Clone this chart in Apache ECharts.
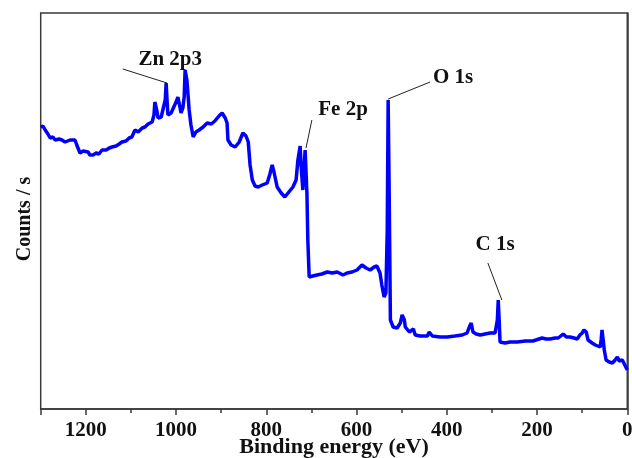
<!DOCTYPE html>
<html>
<head>
<meta charset="utf-8">
<title>XPS survey</title>
<script src="https://cdn.jsdelivr.net/npm/echarts@6/dist/echarts.min.js"></script>
<style>
  html, body { margin: 0; padding: 0; background: #fff; }
  #chart { width: 632px; height: 458px; }
</style>
</head>
<body>
<div id="chart"></div>
<script>
// binding energy (eV)
var energy = [1300, 1295, 1290, 1284, 1279, 1273, 1268, 1259, 1253, 1246, 1242, 1235, 1231, 1224, 1220, 1213,
  1206, 1202, 1195, 1191, 1184, 1177, 1171, 1164, 1155, 1148, 1142, 1133, 1126, 1120, 1111, 1104, 1098, 1091,
  1084, 1075, 1069, 1062, 1053, 1049, 1047, 1042, 1040, 1033, 1029, 1024, 1022, 1020, 1018, 1011, 1007, 1000,
  996, 991, 989, 985, 982, 980, 978, 976, 971, 967, 962, 956, 949, 940, 931, 922, 914, 905, 898, 891, 887, 885,
  878, 869, 860, 852, 845, 840, 836, 831, 825, 818, 809, 798, 792, 787, 783, 776, 767, 759, 750, 741, 734, 730,
  725, 723, 719, 714, 712, 710, 708, 705, 697, 688, 677, 665, 654, 643, 630, 621, 610, 599, 588, 579, 570, 561,
  555, 548, 544, 539, 535, 532, 530, 528, 525, 519, 510, 503, 499, 494, 492, 483, 474, 470, 459, 443, 439, 432,
  415, 399, 382, 366, 355, 351, 346, 342, 335, 326, 315, 304, 293, 288, 286, 284, 282, 271, 260, 244, 226, 209,
  189, 180, 171, 160, 153, 142, 135, 127, 118, 111, 105, 100, 96, 91, 87, 78, 71, 60, 58, 56, 51, 47, 40, 33,
  27, 22, 18, 16, 11, 7, 0];
// counts / s (arbitrary scale)
var counts = [28200, 28300, 27900, 27500, 27100, 27200, 26900, 27000, 26900, 26700, 26600, 26900, 27000, 26900,
  26400, 25600, 25800, 25900, 25700, 25400, 25400, 25600, 25500, 25900, 25900, 26100, 26200, 26300, 26500, 26700,
  26800, 27100, 27200, 27900, 27700, 28100, 28200, 28500, 28700, 29400, 30700, 29700, 29100, 29200, 29400, 30900,
  32600, 30900, 29400, 29600, 29700, 30700, 31200, 30100, 29600, 30100, 31200, 33900, 34100, 32900, 29900, 28400,
  27200, 27700, 27900, 28200, 28600, 28500, 28800, 29300, 29600, 29100, 28600, 26900, 26400, 26200, 26700, 27600,
  27300, 26700, 24400, 22900, 22300, 22200, 22400, 22600, 23500, 24400, 23700, 22200, 21600, 21200, 21700, 22200,
  22900, 24900, 26300, 24400, 21900, 25900, 26100, 21600, 16900, 13200, 13300, 13400, 13500, 13700, 13600, 13700,
  13400, 13600, 13700, 13900, 14400, 14100, 13900, 14200, 14300, 13600, 12400, 11200, 11600, 17900, 30900, 22900,
  8900, 8200, 8100, 8600, 9400, 8900, 8200, 7700, 8000, 7400, 7300, 7300, 7700, 7300, 7200, 7200, 7300, 7400,
  7600, 8100, 8600, 7700, 7500, 7400, 7500, 7600, 7600, 8900, 10900, 8900, 6700, 6600, 6700, 6700, 6800, 6800,
  7100, 7000, 7000, 7100, 7100, 7500, 7200, 7200, 7100, 7000, 7400, 7600, 7900, 7700, 6900, 6600, 6400, 6200,
  6900, 7900, 5900, 4900, 4700, 4600, 4900, 5200, 4800, 4600, 4900, 4700, 3900];

var xTicks = [0, 200, 400, 600, 800, 1000, 1200];

// peak labels and their leader lines [from, to] in (eV, counts)
var peakNames = ['Zn 2p3', 'Fe 2p', 'O 1s', 'C 1s'];
var peakLabelAt = [[1013, 34900], [630, 29900], [386, 33100], [293, 16400]];
var peakLines = [
  [[1118, 34000], [1020, 32600]],
  [[699, 28900], [712, 26100]],
  [[530, 31000], [437, 32700]],
  [[309, 14600], [278, 10900]]
];

var chart = echarts.init(document.getElementById('chart'));
var font = 'Liberation Serif, Times New Roman, serif';

chart.setOption({
  animation: false,
  grid: {
    left: 40.7, right: 4.7, top: 13, bottom: 49,
    outerBoundsMode: 'none',
    containLabel: false,
    show: true, borderColor: '#3a3a3a', borderWidth: 1.5
  },
  xAxis: {
    type: 'value',
    inverse: true,
    min: 0, max: 1300, interval: 200,
    name: 'Binding energy (eV)',
    nameLocation: 'middle',
    nameGap: 27,
    nameMoveOverlap: false,
    nameTextStyle: { fontFamily: font, fontWeight: 'bold', fontSize: 22, color: '#111' },
    axisLine: { show: true, lineStyle: { color: '#3a3a3a', width: 1.5 } },
    axisTick: { show: true, inside: false, length: 6, lineStyle: { color: '#3a3a3a', width: 1.5 } },
    minorTick: { show: true, splitNumber: 2, length: 4, lineStyle: { color: '#3a3a3a', width: 1.5 } },
    axisLabel: {
      margin: 11,
      fontFamily: font, fontWeight: 'bold', fontSize: 21, color: '#111',
      formatter: function (v) { return xTicks.indexOf(v) >= 0 ? String(v) : ''; }
    },
    splitLine: { show: false }
  },
  yAxis: {
    type: 'value',
    min: 0, max: 39600,
    name: 'Counts / s',
    nameLocation: 'middle',
    nameGap: 6,
    nameRotate: 90,
    nameMoveOverlap: false,
    nameTextStyle: { fontFamily: font, fontWeight: 'bold', fontSize: 20, color: '#111', padding: [0, 16, 0, 0] },
    axisLine: { show: true, lineStyle: { color: '#3a3a3a', width: 1.5 } },
    axisTick: { show: false },
    axisLabel: { show: false },
    splitLine: { show: false }
  },
  series: [
    {
      type: 'line',
      data: energy.map(function (e, i) { return [e, counts[i]]; }),
      showSymbol: false,
      symbol: 'none',
      lineStyle: { color: '#0000ff', width: 3.5 },
      z: 3,
      markLine: {
        silent: true,
        symbol: ['none', 'none'],
        label: { show: false },
        lineStyle: { color: '#222', width: 1, type: 'solid' },
        data: peakLines.map(function (l) { return [{ coord: l[0] }, { coord: l[1] }]; })
      },
      markPoint: {
        silent: true,
        symbol: 'circle',
        symbolSize: 0,
        label: {
          show: true,
          position: 'inside',
          fontFamily: font, fontWeight: 'bold', fontSize: 21, color: '#111',
          formatter: function (p) { return p.name; }
        },
        data: peakNames.map(function (n, i) { return { name: n, coord: peakLabelAt[i] }; })
      }
    }
  ]
});
</script>
</body>
</html>
